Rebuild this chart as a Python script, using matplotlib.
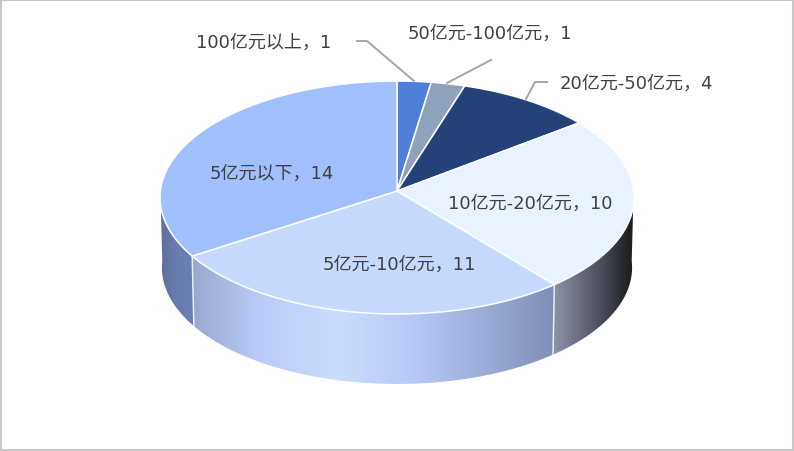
from matplotlib.colors import LinearSegmentedColormap
from matplotlib.patches import Polygon, Rectangle
import matplotlib.pyplot as plt
import numpy as np

plt.rcParams['font.family'] = ['DejaVu Sans', 'Noto Sans CJK SC']

categories = ['100亿元以上', '50亿元-100亿元', '20亿元-50亿元', '10亿元-20亿元', '5亿元-10亿元', '5亿元以下']
values = [1, 1, 4, 10, 11, 14]
colors = ['#4e7fd9', '#8fa2bb', '#254179', '#e9f3ff', '#c6d9fe', '#a1c0fe']

# label centre positions in pixels, same order as categories
label_pos = [(264, 43), (490, 34), (636, 84), (530, 204), (399, 265), (272, 174)]
leaders = [
    [(357, 42), (367, 42), (414, 82)],
    [(491, 61), (447, 84)],
    [(547, 83), (535, 83), (526, 100)],
]

# pie geometry, top face is a circle seen in perspective
cx, cy = 397, 192
rx, ry, k = 236.6, 116.1, 0.0558
depth = 70
line_w = 1.1


def project(t):
    u, v = np.sin(t), np.cos(t)
    w = 1 + k * v
    return cx + rx * u / w, cy - ry * v / w


def bottom(t):
    x, y = project(t)
    return cx + (x - cx) * 0.992, y + depth


def wall(ax, t0, t1, stops, zorder=2):
    t = np.linspace(t0, t1, 200)
    xt, yt = project(t)
    xb, yb = bottom(t[::-1])
    poly = Polygon(np.c_[np.r_[xt, xb], np.r_[yt, yb]], closed=True, fc='none', ec='none')
    ax.add_patch(poly)
    cmap = LinearSegmentedColormap.from_list('w', stops)
    x0, x1 = min(xt.min(), xb.min()), max(xt.max(), xb.max())
    grad = np.linspace(0, 1, 256).reshape(1, -1)
    im = ax.imshow(grad, cmap=cmap, extent=(x0, x1, 400, 150), aspect='auto', zorder=zorder)
    im.set_clip_path(poly)


fig = plt.figure(figsize=(7.94, 4.52), dpi=100)
ax = fig.add_axes([0, 0, 1, 1])

edges = np.cumsum([0] + values) / sum(values) * 2 * np.pi

# side walls, only the part facing the viewer (colours run left to right)
wall(ax, np.pi / 2, edges[4], [(0, '#8f95a7'), (0.5, '#55596a'), (0.95, '#1f1f22'), (1, '#1f1f22')])
wall(ax, edges[4], edges[5], [(0, '#9aa8cd'), (0.17, '#b8c9f8'), (0.4, '#cbdeff'),
                              (0.63, '#b5c6f5'), (1, '#7f8fb8')])
wall(ax, edges[5], 1.5 * np.pi, [(0, '#5d6f99'), (0.5, '#697eb0'), (1, '#6a7eb2')])

for t in (edges[4], edges[5]):
    x, y = project(t)
    xb, yb = bottom(t)
    ax.plot([x, xb], [y, yb], color='#e8ecf4', lw=line_w, zorder=3)

# top face
for i, c in enumerate(colors):
    t = np.linspace(edges[i], edges[i + 1], 200)
    x, y = project(t)
    pts = np.c_[np.r_[cx, x], np.r_[cy, y]]
    ax.add_patch(Polygon(pts, closed=True, fc=c, ec='white', lw=line_w, joinstyle='round', zorder=4))

for pts in leaders:
    xs, ys = zip(*pts)
    ax.plot(xs, ys, color='#a6a6a6', lw=1.4, zorder=5)

for name, val, (x, y) in zip(categories, values, label_pos):
    ax.text(x, y, f'{name}，{val}', ha='center', va='center', fontsize=13, color='#404040', zorder=6)

ax.add_patch(Rectangle((1, 1), 792, 450, fc='none', ec='#c8c8c8', lw=1.5, zorder=7))

ax.set_xlim(0, 794)
ax.set_ylim(452, 0)
ax.axis('off')
fig.savefig('out.png', dpi=100)
